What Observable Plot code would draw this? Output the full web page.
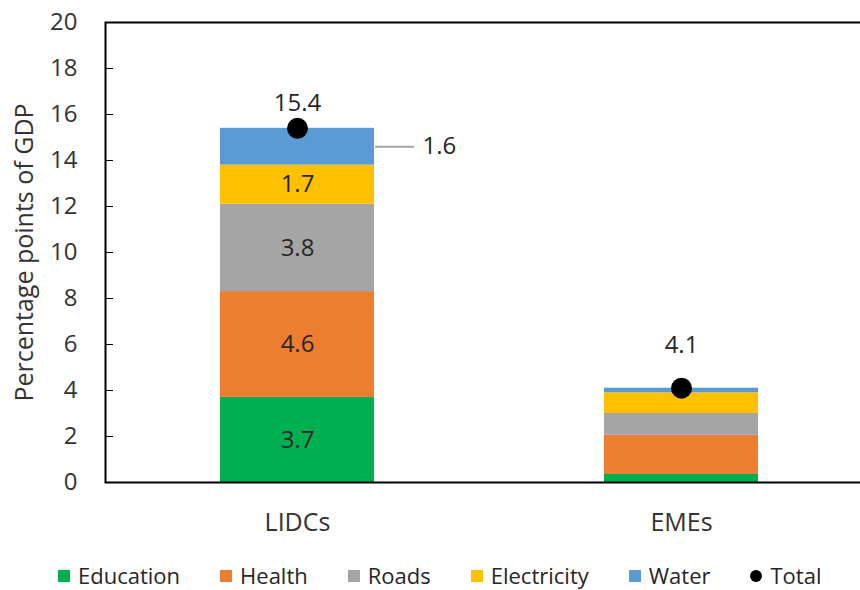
<!DOCTYPE html>
<html>
<head>
<meta charset="utf-8">
<script src="https://cdn.jsdelivr.net/npm/d3@7"></script>
<script src="https://cdn.jsdelivr.net/npm/@observablehq/plot@0.6"></script>
<style>
  html, body { margin: 0; padding: 0; background: #fff; overflow: hidden; }
  body { width: 860px; height: 590px; font-family: "Open Sans", "Noto Sans", sans-serif; }
  #chart { width: 860px; overflow: hidden; }
  #chart svg { display: block; max-width: none !important; width: 873px !important; height: 550px !important; }
  .legend { display: flex; align-items: center; margin-top: 11px; height: 29px; line-height: 29px; padding-left: 58px; font-size: 22px; color: #262626; }
  .legend .item { display: flex; align-items: center; margin-right: 40px; white-space: nowrap; }
  .legend .sw { width: 12px; height: 12px; margin-right: 8px; flex: none; }
  .legend .dot { border-radius: 50%; background: #000; }
</style>
</head>
<body>
<div id="chart"></div>
<div class="legend" id="legend"></div>
<script>
// Spending needs by component, percentage points of GDP
const groups = ["LIDCs", "EMEs"];
const components = ["Education", "Health", "Roads", "Electricity", "Water"];
const colors = ["#00B050", "#ED7D31", "#A5A5A5", "#FFC000", "#5B9BD5"];
const lidcValues = [3.7, 4.6, 3.8, 1.7, 1.6];
const emeValues = [0.35, 1.7, 0.95, 0.9, 0.2];
const totals = [15.4, 4.1];
const yTicks = [0, 2, 4, 6, 8, 10, 12, 14, 16, 18, 20];

const seriesByGroup = {LIDCs: lidcValues, EMEs: emeValues};
const rows = groups.flatMap(g => components.map((c, i) => ({group: g, component: c, value: seriesByGroup[g][i]})));
const totalRows = groups.map((g, i) => ({group: g, total: totals[i]}));

const fmt = d3.format(".1f");
const isLidcWater = d => d.group === "LIDCs" && d.component === "Water";
const inBarLabel = d => (d.group === "LIDCs" && d.component !== "Water") ? fmt(d.value) : null;
const sideLabel = d => isLidcWater(d) ? fmt(d.value) : null;

const chart = Plot.plot({
  width: 873,
  height: 550,
  marginLeft: 105,
  marginRight: 0,
  marginTop: 22,
  marginBottom: 68,
  style: {fontFamily: "'Open Sans', 'Noto Sans', sans-serif", fontSize: "24px", background: "#fff"},
  x: {domain: groups, paddingInner: 0.6, paddingOuter: 0.3},
  y: {domain: [0, 20]},
  color: {domain: components, range: colors},
  marks: [
    Plot.barY(rows, {x: "group", y: "value", fill: "component"}),
    // values inside the LIDC segments
    Plot.text(rows, Plot.stackY({x: "group", y: "value", text: inBarLabel, fill: "#262626", fontSize: 24})),
    // leader line and label for the thin water segment
    Plot.tickY(rows, Plot.filter(isLidcWater,
      Plot.stackY({x: "group", y: "value", stroke: "#A5A5A5", strokeWidth: 2, dx: 155, insetRight: 115}))),
    Plot.text(rows, Plot.stackY({x: "group", y: "value", text: sideLabel, fill: "#262626", fontSize: 24, dx: 125, textAnchor: "start"})),
    // totals
    Plot.dot(totalRows, {x: "group", y: "total", r: 10.5, fill: "#000"}),
    Plot.text(totalRows.filter(d => d.group === "LIDCs"), {x: "group", y: "total", text: d => fmt(d.total), dy: -25, fill: "#262626", fontSize: 24}),
    Plot.text(totalRows.filter(d => d.group === "EMEs"), {x: "group", y: "total", text: d => fmt(d.total), dy: -43, fill: "#262626", fontSize: 24}),
    Plot.axisY({ticks: yTicks, tickSize: -8, tickPadding: 36, stroke: "#000", color: "#333", fontSize: 24,
      label: "Percentage points of GDP", labelAnchor: "center", labelArrow: "none", labelOffset: 90}),
    Plot.axisX({tickSize: 0, tickPadding: 31, color: "#333", fontSize: 25, label: null}),
    Plot.frame({stroke: "#000", strokeWidth: 2})
  ]
});
document.getElementById("chart").append(chart);

// y-axis title is a bit larger than the tick labels
chart.querySelectorAll("[aria-label='y-axis label'] text").forEach(t => t.setAttribute("font-size", 25));

// legend below the chart
const legend = document.getElementById("legend");
components.forEach((c, i) => {
  const item = document.createElement("div");
  item.className = "item";
  item.innerHTML = `<span class="sw" style="background:${colors[i]}"></span><span>${c}</span>`;
  legend.append(item);
});
const totalItem = document.createElement("div");
totalItem.className = "item";
totalItem.innerHTML = `<span class="sw dot"></span><span>Total</span>`;
legend.append(totalItem);
</script>
</body>
</html>
